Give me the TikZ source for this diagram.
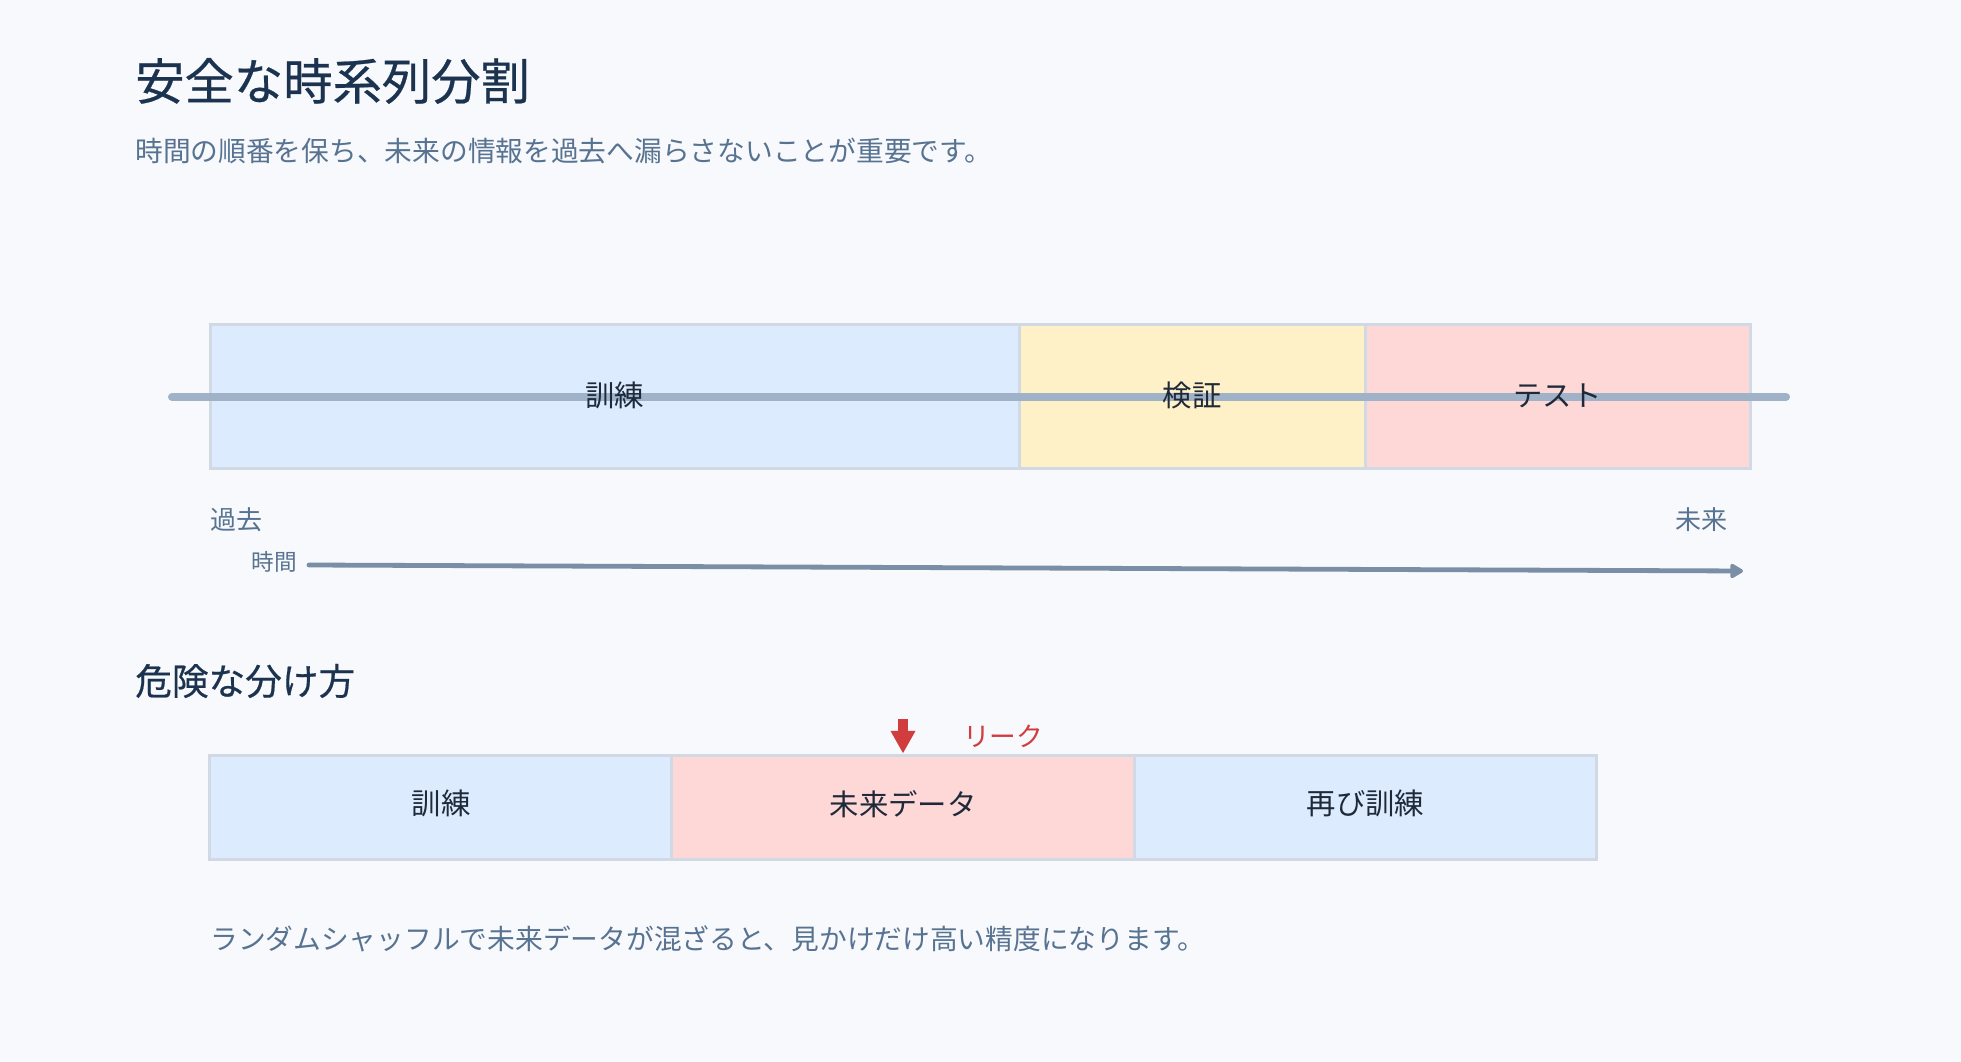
\documentclass[tikz,border=0pt]{standalone}
\usepackage{fontspec}
\setmainfont{Noto Sans CJK JP}
\newfontfamily\headfont{Noto Sans CJK JP}[FakeBold=0.5]
\usepackage{tikz}
\usepackage{xcolor}
\usetikzlibrary{positioning, arrows.meta}

\definecolor{bgcol}{HTML}{F7F9FC}
\definecolor{segline}{HTML}{D1D9E4}
\definecolor{trainfill}{HTML}{DCEBFE}
\definecolor{valfill}{HTML}{FEF1C8}
\definecolor{testfill}{HTML}{FED7D7}
\definecolor{axiscol}{HTML}{9FB2C8}
\definecolor{timecol}{HTML}{7A8EA6}
\definecolor{titletext}{HTML}{1C3350}
\definecolor{subtext}{HTML}{587391}
\definecolor{labeltext}{HTML}{1E2A3A}
\definecolor{leakcol}{HTML}{D13C3C}

\begin{document}
\begin{tikzpicture}[x=0.75pt, y=-0.75pt,
    seg/.style={draw=segline, line width=2.25pt, inner sep=0pt},
    seglabel/.style={text=labeltext, font=\fontsize{22}{26}\selectfont, inner sep=0pt, yshift=1.2pt},
    graytext/.style={text=subtext, inner sep=0pt}]
                    \fill[bgcol] (0, 0) rectangle (1961, 1062);
                    \useasboundingbox (0, 0) rectangle (1961, 1062);

                    \node[anchor=west, text=titletext, font=\headfont\fontsize{37}{44}\selectfont, inner sep=0pt] (title) at (135, 81) {安全な時系列分割};
                    \node[anchor=west, graytext, font=\fontsize{20.8}{24}\selectfont] (subtitle) at (135, 151) {時間の順番を保ち、未来の情報を過去へ漏らさないことが重要です。};

                    \node[seg, fill=trainfill, minimum width=606.75pt, minimum height=108pt] (train) at (614.5, 397) {};
                    \node[seg, fill=valfill, minimum width=259.5pt, minimum height=108pt] (val) at (1192, 397) {};
                    \node[seg, fill=testfill, minimum width=288.75pt, minimum height=108pt] (test) at (1557.5, 397) {};

                    \coordinate (axisL) at (172, 397);
                    \coordinate (axisR) at (1786, 397);
                    \draw[axiscol, line width=6pt, line cap=round] (axisL) -- (axisR);

                    \node[seglabel] (trainlbl) at (train.center) {訓練};
                    \node[seglabel] (vallbl) at (val.center) {検証};
                    \node[seglabel] (testlbl) at (test.center) {テスト};

                    \node[anchor=west, graytext, font=\fontsize{19.5}{23}\selectfont] (past) at (210, 520) {過去};
                    \node[anchor=east, graytext, font=\fontsize{19.5}{23}\selectfont] (future) at (1728, 520) {未来};
                    \node[graytext, font=\fontsize{17}{20}\selectfont] (timelbl) at (274, 562) {時間};

                    \coordinate (tstart) at (309, 565);
                    \coordinate (tend) at (1743, 571);
                    \draw[timecol, line width=3.6pt, line cap=round, -{Triangle[round, length=11pt, width=12pt]}] (tstart) -- (tend);

                    \node[anchor=west, text=titletext, font=\headfont\fontsize{27.5}{32}\selectfont, inner sep=0pt] (danger) at (135, 681) {危険な分け方};

                    \node[seg, fill=trainfill, minimum width=346.75pt, minimum height=78pt] (btrain) at (441, 807) {};
                    \node[seg, fill=testfill, minimum width=346.75pt, minimum height=78pt] (bfuture) at (903, 807) {};
                    \node[seg, fill=trainfill, minimum width=346.75pt, minimum height=78pt] (bretrain) at (1365.5, 807) {};

                    \node[seglabel, yshift=1.2pt] (btrainlbl) at (btrain.center) {訓練};
                    \node[seglabel, yshift=1.2pt] (bfuturelbl) at (bfuture.center) {未来データ};
                    \node[seglabel, yshift=1.2pt] (bretrainlbl) at (bretrain.center) {再び訓練};

                    \coordinate (leaktop) at (903, 719);
                    \draw[leakcol, line width=7.5pt, -{Triangle[length=17pt, width=17.5pt]}] (leaktop) -- (bfuture.north);
                    \node[text=leakcol, font=\fontsize{20}{24}\selectfont, inner sep=0pt] (leaklbl) at (1003, 736) {リーク};

                    \node[anchor=west, graytext, font=\fontsize{20.8}{25}\selectfont] (note) at (210, 939) {ランダムシャッフルで未来データが混ざると、見かけだけ高い精度になります。};
                \end{tikzpicture}
\end{document}
